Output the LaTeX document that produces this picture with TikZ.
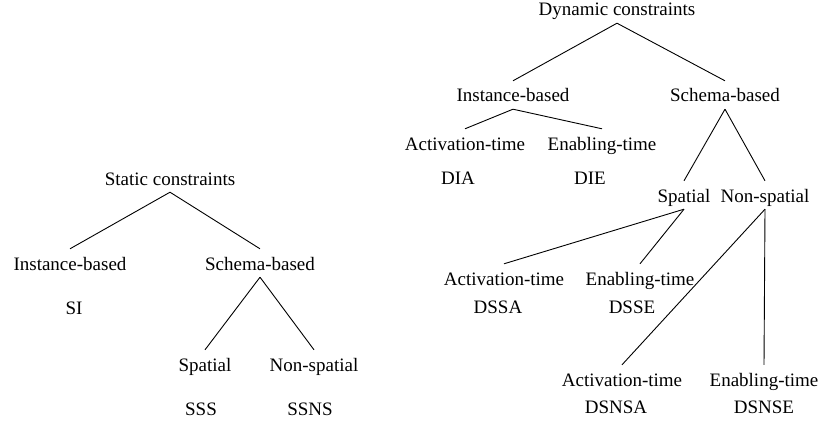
\documentclass[tikz,border=0pt]{standalone}
\usepackage{fontspec}
\setmainfont{Liberation Serif}
\tikzset{
	lbl/.style={anchor=base, inner sep=0pt, text height=21pt, text depth=7pt, font=\fontsize{19}{22}\selectfont},
	edge/.style={line width=0.9pt}
}
\begin{document}
\begin{tikzpicture}[x=1pt,y=-1pt]
		\useasboundingbox (0,0) rectangle (819,425);
		% static tree
		\node [lbl] (sc) at (170,185) {Static constraints};
		\node [lbl] (sib) at (70,270) {Instance-based};
		\node [lbl] (ssb) at (260,270) {Schema-based};
		\node [lbl] (si) at (74,314) {SI};
		\node [lbl] (ssp) at (205,371) {Spatial};
		\node [lbl] (snsp) at (314,371) {Non-spatial};
		\node [lbl] (sss) at (201,415) {SSS};
		\node [lbl] (ssns) at (310,415) {SSNS};
		\draw [edge] (sc.south) -- (sib.north);
		\draw [edge] (sc.south) -- (ssb.north);
		\draw [edge] (ssb.south) -- (ssp.north);
		\draw [edge] (ssb.south) -- (snsp.north);
		% dynamic tree
		\node [lbl] (dc) at (617,16) {Dynamic constraints};
		\node [lbl] (dib) at (513,102) {Instance-based};
		\node [lbl] (dsb) at (725,102) {Schema-based};
		\node [lbl] (diat) at (465,150) {Activation-time};
		\node [lbl] (diet) at (602,150) {Enabling-time};
		\node [lbl] (dia) at (458,184) {DIA};
		\node [lbl] (die) at (590,184) {DIE};
		\node [lbl] (dsp) at (684,202) {Spatial};
		\node [lbl] (dnsp) at (765,202) {Non-spatial};
		\node [lbl] (dsat) at (504,285) {Activation-time};
		\node [lbl] (dset) at (640,285) {Enabling-time};
		\node [lbl] (dssa) at (498,313) {DSSA};
		\node [lbl] (dsse) at (632,313) {DSSE};
		\node [lbl] (dnat) at (622,386) {Activation-time};
		\node [lbl] (dnet) at (764,386) {Enabling-time};
		\node [lbl] (dsnsa) at (616,413) {DSNSA};
		\node [lbl] (dsnse) at (764,413) {DSNSE};
		\draw [edge] (dc.south) -- (dib.north);
		\draw [edge] (dc.south) -- (dsb.north);
		\draw [edge] (dib.south) -- (diat.north);
		\draw [edge] (dib.south) -- (diet.north);
		\draw [edge] (dsb.south) -- (dsp.north);
		\draw [edge] (dsb.south) -- (dnsp.north);
		\draw [edge] (dsp.south) -- (dsat.north);
		\draw [edge] (dsp.south) -- (dset.north);
		\draw [edge] (dnsp.south) -- (dnat.north);
		\draw [edge] (dnsp.south) -- (dnet.north);
\end{tikzpicture}
\end{document}
